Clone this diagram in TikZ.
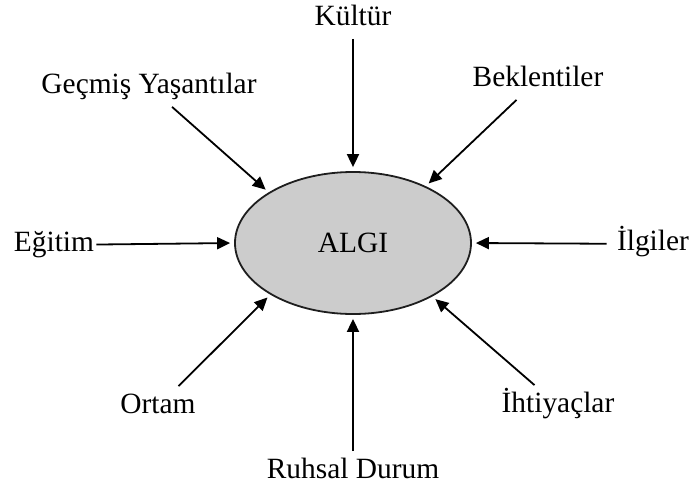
\documentclass[tikz,border=0pt]{standalone}
\usepackage{fontspec}
\setmainfont{Liberation Serif}
\usepackage{tikz}
\usetikzlibrary{arrows.meta,shapes,positioning}
\definecolor{algigray}{RGB}{204,204,204}
\definecolor{algiline}{RGB}{30,30,30}

\begin{document}
\begin{tikzpicture}[x=0.5pt, y=-0.5pt, every node/.style={font=\fontsize{14.7}{17}\selectfont},
    factor/.style={inner xsep=1pt, inner ysep=3pt, text height=10.3pt, text depth=3.7pt},
    arr/.style={-{Triangle[length=6.5pt,width=6pt]}, line width=0.9pt, shorten >=2pt}]
    \useasboundingbox (0,0) rectangle (693,488);

    % Center: perception
    \node[draw=algiline, ellipse, fill=algigray, line width=0.9pt, minimum width=118pt, minimum height=71pt, inner sep=0pt] (algi) at (353,243) {ALGI};

    % Factors around it
    \node[factor] (kultur) at (353,18.5) {Kültür};
    \node[factor] (gecmis) at (149,86.5) {Geçmiş Yaşantılar};
    \node[factor] (beklenti) at (538,79.5) {Beklentiler};
    \node[factor] (egitim) at (54,245) {Eğitim};
    \node[factor] (ilgi) at (653,244) {İlgiler};
    \node[factor] (ortam) at (158,406.5) {Ortam};
    \node[factor] (ihtiyac) at (558,405.5) {İhtiyaçlar};
    \node[factor] (ruhsal) at (353,471.5) {Ruhsal Durum};

    % Arrows into the ellipse
    \draw[arr] (kultur) -- (algi.90);
    \draw[arr] (gecmis) -- (algi.149);
    \draw[arr] (beklenti) -- (algi.38);
    \draw[arr] (egitim) -- (algi.180);
    \draw[arr, shorten <=4pt] (ilgi) -- (algi.0);
    \draw[arr] (ortam) -- (algi.212);
    \draw[arr] (ihtiyac) -- (algi.326);
    \draw[arr] (ruhsal) -- (algi.270);
\end{tikzpicture}
\end{document}
